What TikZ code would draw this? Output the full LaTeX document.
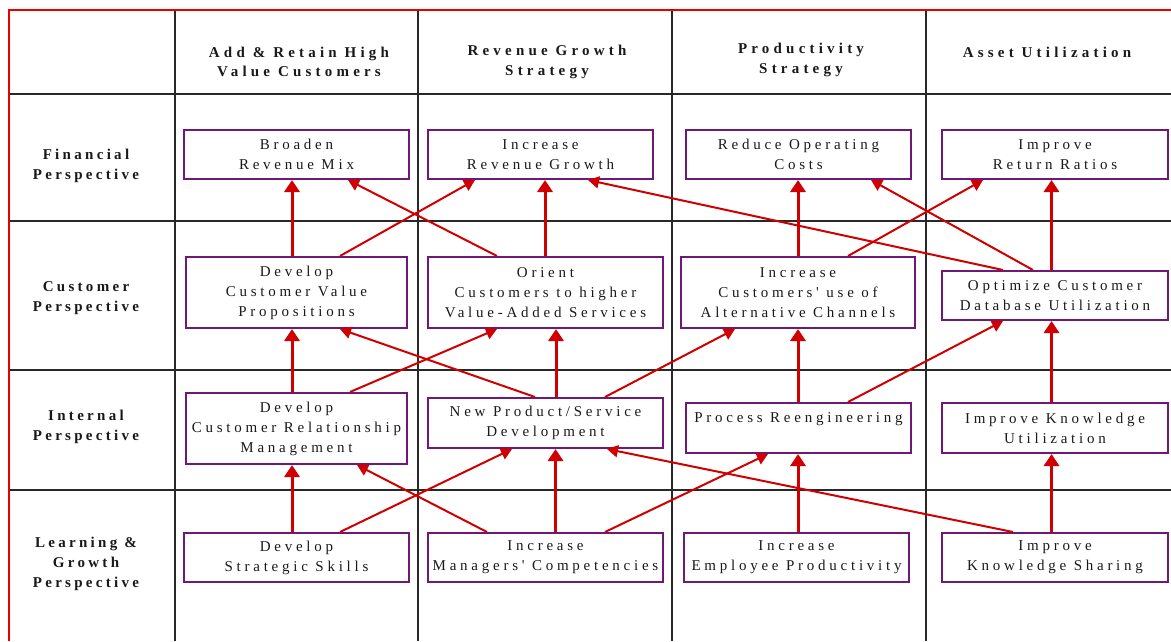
\documentclass[tikz,border=0pt]{standalone}
\usepackage{fontspec}
\setmainfont{Liberation Serif}
\newfontfamily\boxfont{Liberation Serif}[LetterSpace=25]
\newfontfamily\headfont{Liberation Serif}[LetterSpace=28]
\newfontfamily\rowfont{Liberation Serif}[LetterSpace=22]
\usetikzlibrary{arrows.meta}
\definecolor{boxpurple}{RGB}{112,24,120}
\definecolor{arrred}{RGB}{208,0,0}
\definecolor{gridred}{RGB}{235,0,0}
\definecolor{gridgray}{RGB}{40,40,40}
\begin{document}
\begin{tikzpicture}[x=1pt,y=-1pt,
  box/.style={draw=boxpurple,line width=2pt,inner sep=0pt,align=center,
    font=\boxfont\fontsize{15}{20}\selectfont,text=black!90},
  hd/.style={align=center,inner sep=0pt,font=\headfont\bfseries\fontsize{15}{19.5}\selectfont,text=black!90},
  rl/.style={align=center,inner sep=0pt,font=\rowfont\bfseries\fontsize{15}{20}\selectfont,text=black!90},
  wide/.style={minimum width=225pt},
  wider/.style={minimum width=235pt},
  short/.style={minimum height=49pt},
  tall/.style={minimum height=71pt},
  up/.style={draw=arrred,line width=3pt,-{Triangle[length=12pt,width=15pt]}},
  dg/.style={draw=arrred,line width=2pt,-{Triangle[length=11pt,width=12pt]}},
  gridline/.style={draw=gridgray,line width=1.1pt},
]
\useasboundingbox (0,0) rectangle (1171,641);

% grid
\foreach \y in {94,221,370,490} \draw[gridline] (9,\y) -- (1171,\y);
\foreach \x in {175,418,672,926} \draw[gridline] (\x,10) -- (\x,641);
\draw[gridred,line width=1.2pt] (9,641) -- (9,10) -- (1171,10);

% headers
\node[hd] (h1) at (299,62) {Add \& Retain High\\Value Customers};
\node[hd] (h2) at (547,62) {Revenue Growth\\Strategy};
\node[hd] (h3) at (801,60) {Productivity\\Strategy};
\node[hd] (h4) at (1047,52) {Asset Utilization};

% row labels
\node[rl] (r1) at (86,166) {Financial\\Perspective};
\node[rl] (r2) at (86,298) {Customer\\Perspective};
\node[rl] (r3) at (86,427) {Internal\\Perspective};
\node[rl] (r4) at (86,564) {Learning \&\\Growth\\Perspective};

% financial
\node[box,wide,short] (BRM) at (296.5,154.5) {Broaden\\Revenue Mix};
\node[box,wide,short] (IRG) at (540.5,154.5) {Increase\\Revenue Growth};
\node[box,wide,short] (ROC) at (798.5,154.5) {Reduce Operating\\Costs};
\node[box,minimum width=226pt,short] (IRR) at (1055,154.5) {Improve\\Return Ratios};

% customer
\node[box,minimum width=221pt,tall] (DCVP) at (296.5,292.5) {Develop\\Customer Value\\Propositions};
\node[box,wider,tall] (OCV) at (545.5,292.5) {Orient\\Customers to higher\\Value-Added Services};
\node[box,minimum width=234pt,tall] (ICU) at (798,292.5) {Increase\\Customers' use of\\Alternative Channels};
\node[box,minimum width=226pt,short] (OCD) at (1055,295.5) {Optimize Customer\\Database Utilization};

% internal
\node[box,minimum width=221pt,tall] (DCRM) at (296.5,428.5) {Develop\\Customer Relationship\\Management};
\node[box,wider,minimum height=50pt] (NPS) at (545.5,423) {New Product/Service\\Development};
\node[box,wide,minimum height=50pt] (PR) at (798.5,428) {Process Reengineering\\\mbox{}};
\node[box,minimum width=226pt,minimum height=50pt] (IKU) at (1055,428) {Improve Knowledge\\Utilization};

% learning
\node[box,wide,short] (DSS) at (296.5,557.5) {Develop\\Strategic Skills};
\node[box,wider,short] (IMC) at (545.5,557.5) {Increase\\Managers' Competencies};
\node[box,wide,short] (IEP) at (796.5,557.5) {Increase\\Employee Productivity};
\node[box,minimum width=226pt,short] (IKS) at (1055,557.5) {Improve\\Knowledge Sharing};

% vertical arrows
\draw[up] ([xshift=-4.5pt]DSS.north) -- ([xshift=-4.5pt]DCRM.south);
\draw[up] ([xshift=-4.5pt]DCRM.north) -- ([xshift=-4.5pt]DCVP.south);
\draw[up] ([xshift=-4.5pt]DCVP.north) -- ([xshift=-4.5pt]BRM.south);
\draw[up] ([xshift=10pt]IMC.north) -- ([xshift=10pt]NPS.south);
\draw[up] ([xshift=10.5pt]NPS.north) -- ([xshift=10.5pt]OCV.south);
\draw[up] ([xshift=-0.5pt]OCV.north) -- ([xshift=4.5pt]IRG.south);
\draw[up] ([xshift=1.5pt]IEP.north) -- ([xshift=-0.5pt]PR.south);
\draw[up] ([xshift=-0.5pt]PR.north) -- (ICU.south);
\draw[up] (ICU.north) -- ([xshift=-0.5pt]ROC.south);
\draw[up] ([xshift=-3.5pt]IKS.north) -- ([xshift=-3.5pt]IKU.south);
\draw[up] ([xshift=-3.5pt]IKU.north) -- ([xshift=-3.5pt]OCD.south);
\draw[up] ([xshift=-3.5pt]OCD.north) -- ([xshift=-3.5pt]IRR.south);

% diagonal arrows
\draw[dg] ([xshift=43.5pt]DCVP.north) -- ([xshift=-65.5pt]IRG.south);
\draw[dg] ([xshift=-48.5pt]OCV.north) -- ([xshift=51.5pt]BRM.south);
\draw[dg] ([xshift=50pt]ICU.north) -- ([xshift=-72pt]IRR.south);
\draw[dg] ([xshift=-52pt]OCD.north) -- ([xshift=47.5pt]IRG.south);
\draw[dg] ([xshift=-22pt]OCD.north) -- ([xshift=72.5pt]ROC.south);
\draw[dg] ([xshift=-10.5pt]NPS.north) -- ([xshift=43.5pt]DCVP.south);
\draw[dg] ([xshift=53.5pt]DCRM.north) -- ([xshift=-48.5pt]OCV.south);
\draw[dg] ([xshift=59.5pt]NPS.north) -- ([xshift=-63pt]ICU.south);
\draw[dg] ([xshift=49.5pt]PR.north) -- ([xshift=-52pt]OCD.south);
\draw[dg] ([xshift=43.5pt]DSS.north) -- ([xshift=-33.5pt]NPS.south);
\draw[dg] ([xshift=-58.5pt]IMC.north) -- ([xshift=60.5pt]DCRM.south);
\draw[dg] ([xshift=59.5pt]IMC.north) -- ([xshift=-30.5pt]PR.south);
\draw[dg] ([xshift=-42pt]IKS.north) -- ([xshift=61.5pt]NPS.south);
\end{tikzpicture}
\end{document}
